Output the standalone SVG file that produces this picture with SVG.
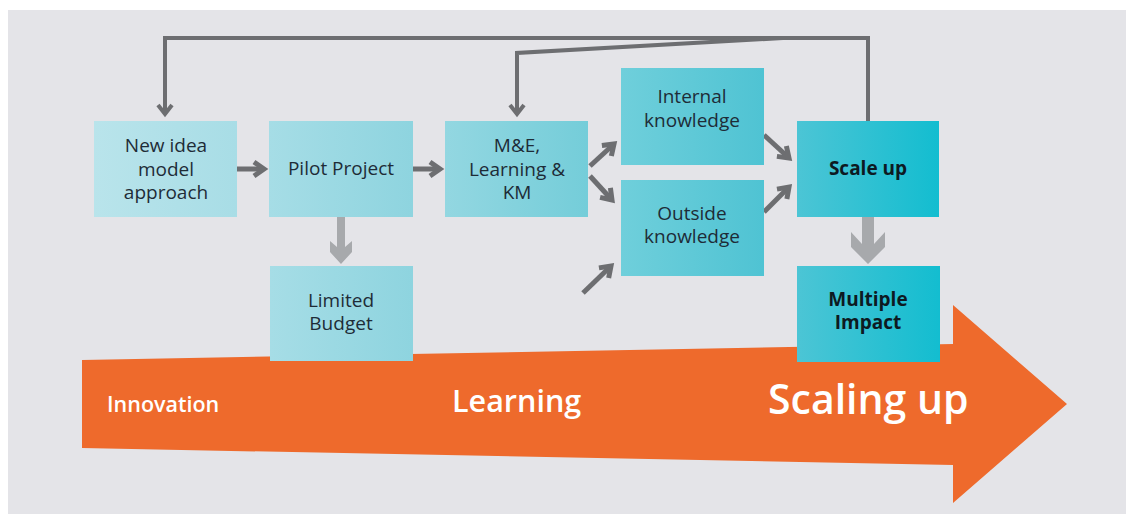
<svg xmlns="http://www.w3.org/2000/svg" width="1126" height="514" viewBox="0 0 1126 514">
<defs>
<style>
.lbl{font-family:"Open Sans","DejaVu Sans",sans-serif;font-size:19px;fill:#1e2c37;text-anchor:middle}
.bold{font-weight:700;fill:#0d1a22}
.wt{font-family:"Open Sans","DejaVu Sans",sans-serif;fill:#ffffff;font-weight:600}
.con{fill:none;stroke:#6d6e71;stroke-width:5}
.loop{fill:none;stroke:#6d6e71;stroke-width:4}
</style>
<linearGradient id="g1" x1="0" x2="1" y1="0" y2="0"><stop offset="0" stop-color="#b9e4eb"/><stop offset="1" stop-color="#a8dde6"/></linearGradient>
<linearGradient id="g2" x1="0" x2="1" y1="0" y2="0"><stop offset="0" stop-color="#a6dde6"/><stop offset="1" stop-color="#8ed4df"/></linearGradient>
<linearGradient id="g3" x1="0" x2="1" y1="0" y2="0"><stop offset="0" stop-color="#93d7e1"/><stop offset="1" stop-color="#74cdd9"/></linearGradient>
<linearGradient id="g4" x1="0" x2="1" y1="0" y2="0"><stop offset="0" stop-color="#6fcfdb"/><stop offset="1" stop-color="#4fc3d3"/></linearGradient>
<linearGradient id="g5" x1="0" x2="1" y1="0" y2="0"><stop offset="0" stop-color="#4cc5d5"/><stop offset="1" stop-color="#13bdd0"/></linearGradient>
<marker id="ah" markerUnits="userSpaceOnUse" viewBox="-14 -10 20 20" markerWidth="20" markerHeight="20" refX="0" refY="0" orient="auto">
<path d="M-10,-7 L0,0 L-10,7" fill="none" stroke="#6d6e71" stroke-width="5"/>
</marker>
<marker id="ahs" markerUnits="userSpaceOnUse" viewBox="-14 -10 20 20" markerWidth="20" markerHeight="20" refX="0" refY="0" orient="auto">
<path d="M-9,-7 L0,0 L-9,7" fill="none" stroke="#6d6e71" stroke-width="4"/>
</marker>
</defs>
<rect x="0" y="0" width="1126" height="514" fill="#ffffff"/>
<rect x="8" y="10" width="1118" height="504" fill="#e4e4e8"/>

<g id="progress-arrow">
<polygon points="82,360 953,344 953,305 1067,404 953,503 953,465 82,448" fill="#ee6a2c"/>
<text class="wt" x="107" y="412" font-size="21.5">Innovation</text>
<text class="wt" x="452" y="412" font-size="30.5">Learning</text>
<text class="wt" x="768" y="414" font-size="41">Scaling up</text>
</g>

<g id="connectors">
<path class="loop" d="M868,121 V38 H165 V114" marker-end="url(#ahs)"/>
<path class="loop" d="M783,38 L517,53 V114" marker-end="url(#ahs)"/>
<path class="con" d="M237,169 H264" marker-end="url(#ah)"/>
<path class="con" d="M413,169 H440" marker-end="url(#ah)"/>
<path class="con" d="M590,166 L614,144" marker-end="url(#ah)"/>
<path class="con" d="M590,176 L612,200" marker-end="url(#ah)"/>
<path class="con" d="M764,135 L789,158" marker-end="url(#ah)"/>
<path class="con" d="M764,212 L789,187" marker-end="url(#ah)"/>
<path class="con" d="M583,293 L611,266" marker-end="url(#ah)"/>
<polygon points="337,217 345,217 345,247 352,241 352,252 341,264 330,252 330,241 337,247" fill="#a7a9ac"/>
<polygon points="862,217 874,217 874,244 885,232 885,247 868,264 851,247 851,232 862,244" fill="#a7a9ac"/>
</g>

<g id="new-idea">
<rect x="94" y="121" width="143" height="96" fill="url(#g1)"/>
<text class="lbl" x="166" y="152">New idea</text>
<text class="lbl" x="166" y="176">model</text>
<text class="lbl" x="166" y="199">approach</text>
</g>
<g id="pilot-project">
<rect x="269" y="121" width="144" height="96" fill="url(#g2)"/>
<text class="lbl" x="341" y="175">Pilot Project</text>
</g>
<g id="limited-budget">
<rect x="270" y="266" width="143" height="95" fill="url(#g2)"/>
<text class="lbl" x="341" y="307" font-size="18">Limited</text>
<text class="lbl" x="341" y="330" font-size="18">Budget</text>
</g>
<g id="me-learning">
<rect x="445" y="121" width="143" height="96" fill="url(#g3)"/>
<text class="lbl" x="517" y="152">M&amp;E,</text>
<text class="lbl" x="517" y="176">Learning &amp;</text>
<text class="lbl" x="517" y="199">KM</text>
</g>
<g id="internal-knowledge">
<rect x="621" y="68" width="143" height="97" fill="url(#g4)"/>
<text class="lbl" x="692" y="103">Internal</text>
<text class="lbl" x="692" y="127">knowledge</text>
</g>
<g id="outside-knowledge">
<rect x="621" y="180" width="143" height="96" fill="url(#g4)"/>
<text class="lbl" x="692" y="220">Outside</text>
<text class="lbl" x="692" y="243">knowledge</text>
</g>
<g id="scale-up">
<rect x="797" y="121" width="142" height="96" fill="url(#g5)"/>
<text class="lbl bold" x="868" y="175" font-size="18">Scale up</text>
</g>
<g id="multiple-impact">
<rect x="797" y="266" width="143" height="96" fill="url(#g5)"/>
<text class="lbl bold" x="868" y="306" font-size="17">Multiple</text>
<text class="lbl bold" x="868" y="329" font-size="17">Impact</text>
</g>
</svg>
